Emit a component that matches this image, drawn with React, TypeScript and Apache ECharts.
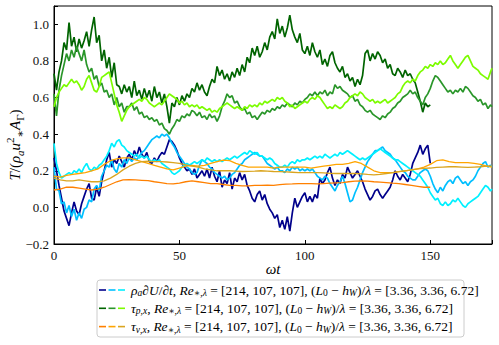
import React, { useEffect, useRef } from 'react';
import * as echarts from 'echarts';

const FONT = 'Liberation Serif, DejaVu Serif, serif';

// time grid: fine series sampled every 1 unit of ωt, smooth series every 2.5
const FINE_STEP = 1;
const COARSE_STEP = 2.5;
const T_END = 174.6;

const xTicks = [0, 50, 100, 150];
const yTicks = [-0.2, 0.0, 0.2, 0.4, 0.6, 0.8, 1.0];

// ρa ∂U/∂t
const dUdtA = [
  0.27, 0.20, 0.12, 0.05, -0.02, -0.06, -0.10, -0.03, 0.03, -0.02,
  -0.04, 0.02, 0.06, 0.10, 0.13, 0.05, 0.04, 0.11, 0.06, 0.14,
  0.20, 0.26, 0.30, 0.22, 0.26, 0.24, 0.28, 0.25, 0.22, 0.27,
  0.29, 0.26, 0.31, 0.28, 0.33, 0.29, 0.27, 0.30, 0.25, 0.24,
  0.27, 0.25, 0.28, 0.30, 0.29, 0.33, 0.37, 0.36, 0.34, 0.31,
  0.27, 0.24, 0.22, 0.20, 0.21, 0.18, 0.21, 0.16, 0.18, 0.20,
  0.17, 0.21, 0.16, 0.22, 0.17, 0.14, 0.20, 0.11, 0.15, 0.13,
  0.19, 0.10, 0.16, 0.14, 0.19, 0.15, 0.18, 0.12, 0.09, 0.05,
  0.03, 0.07, 0.09, 0.04, 0.07, 0.02, -0.01, -0.03, -0.06, -0.04,
  -0.11, -0.07, -0.12, -0.05, -0.13, -0.03, 0.05, 0.00, 0.03, 0.06,
  0.08, 0.03, 0.06, 0.03, 0.07, 0.05, 0.16, 0.13, 0.15, 0.19,
  0.22, 0.16, 0.12, 0.15, 0.13, 0.18, 0.16, 0.22, 0.19, 0.16,
  0.18, 0.20, 0.17, 0.14, 0.10, 0.07, 0.04, 0.06, 0.09, 0.10,
  0.07, 0.05, 0.07, 0.09, 0.11, 0.15, 0.20, 0.17, 0.15, 0.18,
  0.16, 0.14, 0.18, 0.24, 0.27, 0.30, 0.34, 0.29, 0.32, 0.34,
  0.24,
];
const dUdtB = [
  0.22, 0.10, 0.09, 0.02, 0.03, -0.03, 0.01, -0.05, -0.01, -0.07,
  -0.03, -0.06, -0.01, 0.00, 0.04, 0.03, 0.10, 0.12, 0.09, 0.17,
  0.20, 0.23, 0.22, 0.26, 0.21, 0.19, 0.24, 0.22, 0.26, 0.24,
  0.27, 0.25, 0.27, 0.26, 0.28, 0.30, 0.31, 0.33, 0.35, 0.37,
  0.38, 0.39, 0.38, 0.40, 0.39, 0.40, 0.38, 0.35, 0.33, 0.30,
  0.28, 0.26, 0.24, 0.22, 0.21, 0.19, 0.18, 0.19, 0.23, 0.26,
  0.25, 0.24, 0.22, 0.21, 0.19, 0.18, 0.17, 0.16, 0.17, 0.15,
  0.16, 0.18, 0.19, 0.21, 0.23, 0.24, 0.26, 0.27, 0.28, 0.29,
  0.30, 0.29, 0.28, 0.28, 0.26, 0.24, 0.23, 0.22, 0.21, 0.22,
  0.20, 0.20, 0.19, 0.21, 0.20, 0.22, 0.21, 0.22, 0.20, 0.21,
  0.20, 0.21, 0.20, 0.21, 0.19, 0.17, 0.16, 0.15, 0.17, 0.16,
  0.13, 0.11, 0.09, 0.12, 0.14, 0.17, 0.13, 0.08, 0.03, 0.04,
  0.08, 0.11, 0.15, 0.19, 0.22, 0.25, 0.27, 0.29, 0.31, 0.31,
  0.32, 0.33, 0.31, 0.30, 0.29, 0.27, 0.26, 0.24, 0.22, 0.20,
  0.19, 0.17, 0.16, 0.15, 0.15, 0.17, 0.19, 0.20, 0.21, 0.20,
  0.17, 0.13, 0.10, 0.08, 0.11, 0.09, 0.12, 0.14, 0.15, 0.13,
  0.16, 0.17, 0.15, 0.13, 0.14, 0.12, 0.14, 0.15, 0.17, 0.20,
  0.22, 0.24, 0.25, 0.22, 0.23,
  0.22,
];
const dUdtC = [
  0.35, 0.24, 0.19, 0.16, 0.17, 0.18, 0.19, 0.18, 0.20, 0.19,
  0.21, 0.19, 0.22, 0.24, 0.21, 0.20, 0.22, 0.21, 0.23, 0.24,
  0.26, 0.28, 0.31, 0.35, 0.33, 0.36, 0.37, 0.34, 0.33, 0.31,
  0.30, 0.29, 0.28, 0.29, 0.27, 0.28, 0.27, 0.28, 0.26, 0.25,
  0.26, 0.25, 0.26, 0.24, 0.23, 0.22, 0.21, 0.19, 0.18, 0.19,
  0.20, 0.22, 0.23, 0.24, 0.23, 0.24, 0.25, 0.24, 0.25, 0.26,
  0.25, 0.27, 0.26, 0.25, 0.26, 0.25, 0.26, 0.25, 0.26, 0.27,
  0.26, 0.27, 0.28, 0.27, 0.28, 0.29, 0.30, 0.29, 0.31, 0.30,
  0.29, 0.30, 0.28, 0.28, 0.27, 0.26, 0.27, 0.26, 0.24, 0.23,
  0.22, 0.22, 0.23, 0.22, 0.24, 0.25, 0.24, 0.26, 0.25, 0.26,
  0.26, 0.27, 0.26, 0.27, 0.28, 0.27, 0.28, 0.27, 0.29, 0.28,
  0.27, 0.28, 0.29, 0.28, 0.30, 0.29, 0.30, 0.31, 0.30, 0.29,
  0.28, 0.27, 0.26, 0.27, 0.26, 0.27, 0.28, 0.29, 0.30, 0.31,
  0.32, 0.31, 0.30, 0.29, 0.28, 0.27, 0.26, 0.26, 0.25, 0.24,
  0.23, 0.22, 0.21, 0.20, 0.19, 0.18, 0.17, 0.15, 0.13, 0.11,
  0.08, 0.06, 0.04, 0.05, 0.02, 0.01, 0.03, 0.01, 0.02, 0.04,
  0.03, 0.05, 0.03, 0.01, 0.00, 0.02, 0.03, 0.04, 0.05, 0.06,
  0.08, 0.10, 0.12, 0.11, 0.09,
  0.10,
];

// τp,x
const tauPA = [
  0.73, 0.64, 0.74, 0.80, 0.90, 0.86, 1.01, 0.88, 0.93, 0.85,
  0.92, 0.87, 0.91, 0.96, 0.88, 0.97, 1.04, 0.90, 0.94, 0.80,
  0.86, 0.76, 0.82, 0.71, 0.79, 0.67, 0.66, 0.62, 0.67, 0.63,
  0.66, 0.60, 0.69, 0.61, 0.64, 0.59, 0.65, 0.60, 0.64, 0.58,
  0.66, 0.60, 0.63, 0.57, 0.62, 0.55, 0.46, 0.57, 0.55, 0.60,
  0.56, 0.61, 0.58, 0.62, 0.60, 0.65, 0.63, 0.68, 0.64, 0.67,
  0.63, 0.61, 0.66, 0.70, 0.68, 0.77, 0.72, 0.75, 0.70, 0.73,
  0.69, 0.74, 0.71, 0.76, 0.72, 0.78, 0.74, 0.82, 0.79, 0.87,
  0.83, 0.88, 0.82, 0.85, 0.90, 0.86, 0.93, 0.96, 0.92, 1.03,
  0.95, 0.99, 0.93, 0.98, 1.05, 0.97, 0.93, 0.90, 0.95, 0.86,
  0.84, 0.88, 0.83, 0.90, 0.85, 0.82, 0.86, 0.78, 0.81, 0.77,
  0.83, 0.85, 0.79, 0.76, 0.74, 0.77, 0.71, 0.73, 0.69, 0.71,
  0.66, 0.70, 0.67, 0.72, 0.84, 0.86, 0.80, 0.84, 0.81, 0.85,
  0.83, 0.79, 0.81, 0.76, 0.78, 0.73, 0.72, 0.76, 0.74, 0.71,
  0.75, 0.72, 0.73, 0.70, 0.68, 0.63, 0.58, 0.52, 0.57, 0.55,
  0.56,
];
const tauPB = [
  0.62, 0.50, 0.64, 0.72, 0.78, 0.84, 0.80, 0.86, 0.82, 0.88,
  0.84, 0.80, 0.86, 0.78, 0.74, 0.76, 0.70, 0.72, 0.66, 0.68,
  0.63, 0.64, 0.60, 0.62, 0.56, 0.60, 0.55, 0.57, 0.52, 0.55,
  0.55, 0.57, 0.53, 0.55, 0.51, 0.52, 0.49, 0.50, 0.48, 0.49,
  0.47, 0.48, 0.45, 0.46, 0.43, 0.42, 0.40, 0.43, 0.45, 0.48,
  0.47, 0.50, 0.49, 0.51, 0.50, 0.53, 0.52, 0.50, 0.52, 0.49,
  0.50, 0.48, 0.51, 0.49, 0.50, 0.47, 0.50, 0.55, 0.58, 0.62,
  0.60, 0.61, 0.57, 0.58, 0.55, 0.53, 0.54, 0.51, 0.52, 0.49,
  0.50, 0.48, 0.50, 0.52, 0.51, 0.53, 0.52, 0.54, 0.53, 0.55,
  0.54, 0.56, 0.55, 0.57, 0.56, 0.55, 0.57, 0.56, 0.58, 0.57,
  0.59, 0.60, 0.62, 0.61, 0.63, 0.61, 0.63, 0.62, 0.64, 0.61,
  0.63, 0.62, 0.67, 0.65, 0.66, 0.64, 0.63, 0.62, 0.60, 0.61,
  0.58, 0.59, 0.56, 0.55, 0.53, 0.52, 0.53, 0.51, 0.50, 0.49,
  0.48, 0.50, 0.49, 0.51, 0.52, 0.54, 0.55, 0.57, 0.58, 0.60,
  0.61, 0.62, 0.64, 0.62, 0.63, 0.60, 0.58, 0.56, 0.60, 0.62,
  0.65, 0.69, 0.72, 0.71, 0.69, 0.67, 0.65, 0.63, 0.64, 0.62,
  0.64, 0.63, 0.65, 0.63, 0.66, 0.65, 0.63, 0.61, 0.60, 0.58,
  0.59, 0.56, 0.57, 0.54, 0.56,
  0.55,
];
const tauPC = [
  0.55, 0.60, 0.63, 0.65, 0.67, 0.66, 0.68, 0.70, 0.68, 0.69,
  0.67, 0.64, 0.66, 0.70, 0.72, 0.68, 0.64, 0.63, 0.66, 0.71,
  0.72, 0.73, 0.74, 0.68, 0.62, 0.56, 0.52, 0.47, 0.50, 0.53,
  0.55, 0.56, 0.57, 0.58, 0.59, 0.58, 0.60, 0.59, 0.57, 0.56,
  0.55, 0.56, 0.57, 0.56, 0.58, 0.60, 0.62, 0.61, 0.60, 0.59,
  0.57, 0.58, 0.56, 0.57, 0.55, 0.56, 0.55, 0.56, 0.54, 0.55,
  0.54, 0.53, 0.54, 0.52, 0.53, 0.52, 0.54, 0.55, 0.56, 0.57,
  0.56, 0.55, 0.54, 0.55, 0.54, 0.53, 0.55, 0.54, 0.56, 0.55,
  0.56, 0.55, 0.57, 0.56, 0.58, 0.57, 0.58, 0.59, 0.58, 0.60,
  0.59, 0.60, 0.58, 0.57, 0.55, 0.56, 0.54, 0.55, 0.56, 0.57,
  0.58, 0.57, 0.59, 0.60, 0.59, 0.61, 0.60, 0.58, 0.56, 0.54,
  0.55, 0.54, 0.56, 0.55, 0.54, 0.55, 0.57, 0.58, 0.60, 0.61,
  0.62, 0.61, 0.63, 0.62, 0.60, 0.59, 0.58, 0.59, 0.57, 0.58,
  0.57, 0.58, 0.59, 0.57, 0.58, 0.59, 0.60, 0.62, 0.63, 0.66,
  0.68, 0.69, 0.68, 0.70, 0.69, 0.72, 0.74, 0.75, 0.77, 0.76,
  0.78, 0.77, 0.79, 0.78, 0.80, 0.78, 0.79, 0.81, 0.83, 0.80,
  0.78, 0.76, 0.78, 0.80, 0.82, 0.83, 0.80, 0.77, 0.76, 0.75,
  0.73, 0.72, 0.71, 0.70, 0.74,
  0.76,
];

// τν,x (sampled every 2.5)
const tauVA = [
  0.095, 0.10, 0.11, 0.11, 0.105, 0.10, 0.095, 0.10, 0.11, 0.125,
  0.14, 0.15, 0.152, 0.15, 0.148, 0.146, 0.14, 0.135, 0.13, 0.128,
  0.133, 0.14, 0.145, 0.14, 0.135, 0.13, 0.13, 0.125, 0.12, 0.12,
  0.118, 0.117, 0.12, 0.12, 0.122, 0.12, 0.124, 0.127, 0.128, 0.13,
  0.13, 0.13, 0.128, 0.13, 0.132, 0.134, 0.135, 0.14, 0.143, 0.145,
  0.143, 0.14, 0.138, 0.135, 0.132, 0.13, 0.125, 0.12, 0.115, 0.11,
  0.11,
];
const tauVB = [
  0.17, 0.165, 0.175, 0.18, 0.185, 0.19, 0.20, 0.21, 0.235, 0.255,
  0.265, 0.27, 0.27, 0.26, 0.25, 0.24, 0.23, 0.22, 0.21, 0.205,
  0.215, 0.225, 0.23, 0.225, 0.23, 0.24, 0.25, 0.258, 0.255, 0.24,
  0.23, 0.22, 0.22, 0.22, 0.22, 0.215, 0.22, 0.22, 0.22, 0.22,
  0.22, 0.215, 0.22, 0.225, 0.23, 0.235, 0.235, 0.24, 0.25, 0.24,
  0.22, 0.20, 0.19, 0.19, 0.19, 0.195, 0.20, 0.205, 0.21, 0.22,
  0.235, 0.255, 0.26, 0.25, 0.245, 0.245, 0.245, 0.24, 0.235, 0.225,
  0.22,
];
const tauVC = [
  0.16, 0.15, 0.145, 0.145, 0.15, 0.145, 0.14, 0.14, 0.145, 0.16,
  0.18, 0.205, 0.225, 0.24, 0.25, 0.252, 0.25, 0.25, 0.248, 0.245,
  0.24, 0.232, 0.225, 0.22, 0.21, 0.205, 0.20, 0.20, 0.20, 0.198,
  0.196, 0.197, 0.198, 0.20, 0.198, 0.196, 0.195, 0.194, 0.192, 0.19,
  0.19, 0.19, 0.19, 0.188, 0.186, 0.185, 0.185, 0.186, 0.185, 0.183,
  0.18, 0.178, 0.18, 0.185, 0.19, 0.195, 0.20, 0.205, 0.21, 0.213,
  0.215, 0.218, 0.22, 0.222, 0.222, 0.22, 0.218, 0.22, 0.222, 0.225,
  0.225,
];

const BLUES = ['#00008b', '#00bfff', '#00f0ff'];
const GREENS = ['#006400', '#2a962a', '#7cfc00'];
const ORANGES = ['#ff8000', '#ffa500', '#daa520'];

function pairs(vals: number[], step: number, endAt?: number) {
  return vals.map((v, i) => [endAt !== undefined && i === vals.length - 1 ? endAt : i * step, v]);
}

const seriesDefs = [
  { data: pairs(dUdtA, FINE_STEP), color: BLUES[0], w: 1.7 },
  { data: pairs(dUdtB, FINE_STEP, T_END), color: BLUES[1], w: 1.7 },
  { data: pairs(dUdtC, FINE_STEP, T_END), color: BLUES[2], w: 1.7 },
  { data: pairs(tauPA, FINE_STEP), color: GREENS[0], w: 1.7 },
  { data: pairs(tauPB, FINE_STEP, T_END), color: GREENS[1], w: 1.7 },
  { data: pairs(tauPC, FINE_STEP, T_END), color: GREENS[2], w: 1.7 },
  { data: pairs(tauVA, COARSE_STEP), color: ORANGES[0], w: 1.3 },
  { data: pairs(tauVB, COARSE_STEP, T_END), color: ORANGES[1], w: 1.3 },
  { data: pairs(tauVC, COARSE_STEP, T_END), color: ORANGES[2], w: 1.3 },
];

const LEG_TAIL = '{r|, }{i|Re}{s|∗,λ}{r| = [214, 107, 107], (}{i|L}{sr|0}{r| − }{i|h}{s|W}{r|)/}{i|λ}{r| = [3.36, 3.36, 6.72]}';
const legendRows = [
  { text: '{i|ρ}{s|a}{r|∂}{i|U}{r|/∂}{i|t}' + LEG_TAIL, colors: BLUES },
  { text: '{i|τ}{s|p,x}' + LEG_TAIL, colors: GREENS },
  { text: '{i|τ}{s|ν,x}' + LEG_TAIL, colors: ORANGES },
];

const LFS = 13.5;
const legendRich = {
  i: { fontStyle: 'italic', fontSize: LFS, fontFamily: FONT, fill: '#000', lineHeight: 16 },
  r: { fontSize: LFS, fontFamily: FONT, fill: '#000', lineHeight: 16 },
  s: { fontStyle: 'italic', fontSize: 9.5, fontFamily: FONT, fill: '#000', verticalAlign: 'bottom', lineHeight: 10 },
  sr: { fontSize: 9.5, fontFamily: FONT, fill: '#000', verticalAlign: 'bottom', lineHeight: 10 },
};

const YFS = 15;
const ylabRich = {
  i: { fontStyle: 'italic', fontSize: YFS, fontFamily: FONT, fill: '#000', lineHeight: 21 },
  r: { fontSize: YFS, fontFamily: FONT, fill: '#000', lineHeight: 21 },
  s: { fontStyle: 'italic', fontSize: 11, fontFamily: FONT, fill: '#000', verticalAlign: 'bottom', lineHeight: 12 },
  sr: { fontSize: 11, fontFamily: FONT, fill: '#000', verticalAlign: 'bottom', lineHeight: 12 },
  p: { fontSize: 11, fontFamily: FONT, fill: '#000', verticalAlign: 'top', lineHeight: 12 },
};

export default function App() {
  const ref = useRef<HTMLDivElement>(null);
  useEffect(() => {
    if (!ref.current) return;
    const chart = echarts.init(ref.current, undefined, { renderer: 'svg' });

    const graphic: any[] = [];
    // legend frame
    const LX = 97, LY = 280, LW = 367, LH = 57;
    graphic.push({
      type: 'rect', shape: { x: LX, y: LY, width: LW, height: LH, r: 3 },
      style: { fill: '#fff', stroke: '#cccccc', lineWidth: 1 }, z: 100,
    });
    const segs = [[99, 106], [108.5, 115.5], [118, 125]];
    legendRows.forEach((row, r) => {
      const cy = 290 + r * 18.3;
      segs.forEach((sg, k) => {
        graphic.push({
          type: 'line', shape: { x1: sg[0], y1: cy, x2: sg[1], y2: cy },
          style: { stroke: row.colors[k], lineWidth: 1.6 }, z: 101,
        });
      });
      graphic.push({
        type: 'text', x: 131, y: cy, z: 101,
        style: { text: row.text, rich: legendRich, align: 'left', verticalAlign: 'middle' },
      });
    });
    // y label
    graphic.push({
      type: 'text', x: 15, y: 145, rotation: Math.PI / 2, z: 101,
      style: {
        text: '{i|T}{r|/(}{i|ρ}{s|a}{i|u}{p|2}{sr|∗}{i|A}{sr|Γ}{r|)}',
        rich: ylabRich, align: 'center', verticalAlign: 'middle',
      },
    });
    // x label
    graphic.push({
      type: 'text', x: 273, y: 269, z: 101,
      style: { text: 'ωt', fontStyle: 'italic', fontSize: 15, fontFamily: FONT, fill: '#000', align: 'center', verticalAlign: 'middle' },
    });

    const option: any = {
      animation: false,
      backgroundColor: '#fff',
      grid: {
        left: 54, right: 7, top: 6, bottom: 101,
        show: true, borderColor: '#000', borderWidth: 1, backgroundColor: 'transparent',
        containLabel: false,
      },
      xAxis: {
        type: 'value', min: 0, max: T_END, interval: 50,
        axisLine: { show: true, onZero: false, lineStyle: { color: '#000', width: 1 } },
        axisTick: { show: true, inside: true, length: 4, lineStyle: { color: '#000', width: 1 } },
        splitLine: { show: false },
        axisLabel: {
          margin: 5, color: '#111', fontFamily: FONT, fontSize: 13,
          formatter: (v: number) => (xTicks.some((t) => Math.abs(t - v) < 1e-6) ? String(v) : ''),
        },
      },
      yAxis: {
        type: 'value', min: -0.2, max: 1.1, interval: 0.2,
        axisLine: { show: true, onZero: false, lineStyle: { color: '#000', width: 1 } },
        axisTick: { show: true, inside: true, length: 4, lineStyle: { color: '#000', width: 1 } },
        splitLine: { show: false },
        axisLabel: {
          margin: 5, color: '#111', fontFamily: FONT, fontSize: 13,
          formatter: (v: number) => {
            const t = yTicks.find((q) => Math.abs(q - v) < 1e-6);
            if (t === undefined) return '';
            return t < 0 ? '−' + Math.abs(t).toFixed(1) : t.toFixed(1);
          },
        },
      },
      series: seriesDefs.map((s, i) => ({
        type: 'line', data: s.data, showSymbol: false, symbol: 'none', silent: true,
        lineStyle: { color: s.color, width: s.w }, itemStyle: { color: s.color }, z: 2 + i * 0.01,
      })),
      graphic,
    };
    chart.setOption(option);
    return () => chart.dispose();
  }, []);
  return <div ref={ref} style={{ position: 'fixed', left: 0, top: 0, width: 499, height: 345 }} />;
}
